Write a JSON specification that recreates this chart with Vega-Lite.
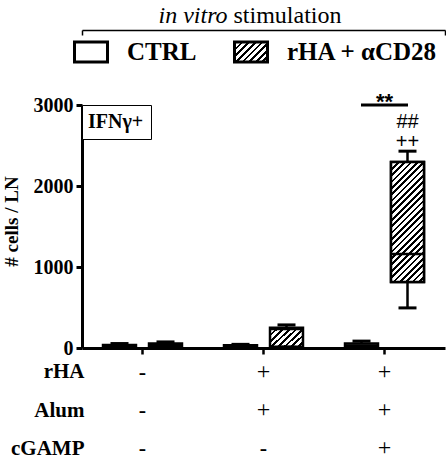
{
  "$schema": "https://vega.github.io/schema/vega-lite/v6.json",
  "background": "white",
  "padding": {"left": 2, "top": 3, "right": 0, "bottom": 2},
  "datasets": {
    "boxes": [
      {"group": "Naive", "stim": "CTRL", "min": 5, "q1": 12, "median": 22, "q3": 38, "max": 55},
      {"group": "Naive", "stim": "rHA + αCD28", "min": 8, "q1": 18, "median": 35, "q3": 55, "max": 75},
      {"group": "rHA+Alum", "stim": "CTRL", "min": 4, "q1": 10, "median": 20, "q3": 35, "max": 45},
      {"group": "rHA+Alum", "stim": "rHA + αCD28", "min": 10, "q1": 15, "median": 235, "q3": 250, "max": 285},
      {"group": "rHA+Alum+cGAMP", "stim": "CTRL", "min": 5, "q1": 15, "median": 30, "q3": 55, "max": 85},
      {"group": "rHA+Alum+cGAMP", "stim": "rHA + αCD28", "min": 495, "q1": 815, "median": 1160, "q3": 2296, "max": 2430}
    ],
    "annot": [
      {"group": "rHA+Alum+cGAMP", "label": "**", "value": 3000},
      {"group": "rHA+Alum+cGAMP", "stim": "rHA + αCD28", "label": "##", "value": 2716},
      {"group": "rHA+Alum+cGAMP", "stim": "rHA + αCD28", "label": "++", "value": 2469}
    ],
    "table": [
      {"group": "Naive", "factor": "rHA", "sign": "-"},
      {"group": "Naive", "factor": "Alum", "sign": "-"},
      {"group": "Naive", "factor": "cGAMP", "sign": "-"},
      {"group": "rHA+Alum", "factor": "rHA", "sign": "+"},
      {"group": "rHA+Alum", "factor": "Alum", "sign": "+"},
      {"group": "rHA+Alum", "factor": "cGAMP", "sign": "-"},
      {"group": "rHA+Alum+cGAMP", "factor": "rHA", "sign": "+"},
      {"group": "rHA+Alum+cGAMP", "factor": "Alum", "sign": "+"},
      {"group": "rHA+Alum+cGAMP", "factor": "cGAMP", "sign": "+"}
    ]
  },
  "vconcat": [
    {
      "width": 363,
      "height": 243,
      "layer": [
        {
          "encoding": {
            "x": {"field": "group", "type": "nominal", "sort": null,
              "scale": {"domain": ["Naive", "rHA+Alum", "rHA+Alum+cGAMP"], "paddingInner": 0, "paddingOuter": 0},
              "axis": {"orient": "bottom", "labels": false, "title": null, "tickSize": 6, "tickWidth": 2.5, "domainWidth": 3}}
          },
          "layer": [
            {
              "data": {"name": "boxes"},
              "mark": {"type": "rule", "color": "black", "strokeWidth": 2.5, "opacity": 1},
              "encoding": {
                "xOffset": {"field": "stim", "type": "nominal", "scale": {"domain": ["CTRL", "rHA + αCD28"], "paddingInner": 0.283, "paddingOuter": 0.4567}},
                "y": {"field": "min", "type": "quantitative", "title": "# cells / LN", "scale": {"domain": [0, 3000], "nice": false},
                  "axis": {"format": "d", "labelFont": "Liberation Serif", "titleFont": "Liberation Serif", "labelFontWeight": "bold", "titleFontWeight": "bold", "labelFontSize": 20, "titleFontSize": 19, "titlePadding": 12, "titleY": 116}},
                "y2": {"field": "max"},
                "strokeDash": {"datum": "IFNγ+", "scale": {"range": [[1, 0]]},
                  "legend": {"orient": "top-left", "offset": 0, "title": null, "symbolType": "circle", "symbolSize": 0, "symbolOpacity": 0, "symbolStrokeWidth": 0,
                    "labelFont": "Liberation Serif", "labelFontWeight": "bold", "labelFontSize": 20, "labelColor": "black", "labelOffset": -21,
                    "padding": 7, "strokeColor": "black", "fillColor": "white",
                    "encode": {"legend": {"update": {"stroke": {"value": "black"}, "strokeWidth": {"value": 3}, "fill": {"value": "white"}}}}}}
              }
            },
            {
              "data": {"name": "boxes"},
              "mark": {"type": "bar", "stroke": "black", "strokeWidth": 2.5, "opacity": 1},
              "encoding": {
                "xOffset": {"field": "stim", "type": "nominal", "scale": {"domain": ["CTRL", "rHA + αCD28"], "paddingInner": 0.283, "paddingOuter": 0.4567}},
                "y": {"field": "q1", "type": "quantitative", "title": "# cells / LN", "scale": {"domain": [0, 3000], "nice": false},
                  "axis": {"format": "d", "labelFont": "Liberation Serif", "titleFont": "Liberation Serif", "labelFontWeight": "bold", "titleFontWeight": "bold", "labelFontSize": 20, "titleFontSize": 19, "titlePadding": 12, "titleY": 116}},
                "y2": {"field": "q3"},
                "fill": {"field": "stim", "type": "nominal",
                  "scale": {"domain": ["CTRL", "rHA + αCD28"], "range": ["white", {"expr": "{gradient: 'linear', x1: 0, y1: 0, x2: 1.175, y2: 0.712, stops: [{offset: 0, color: 'black'}, {offset: 0.0525, color: 'black'}, {offset: 0.0525, color: 'white'}, {offset: 0.125, color: 'white'}, {offset: 0.125, color: 'black'}, {offset: 0.1775, color: 'black'}, {offset: 0.1775, color: 'white'}, {offset: 0.25, color: 'white'}, {offset: 0.25, color: 'black'}, {offset: 0.3025, color: 'black'}, {offset: 0.3025, color: 'white'}, {offset: 0.375, color: 'white'}, {offset: 0.375, color: 'black'}, {offset: 0.4275, color: 'black'}, {offset: 0.4275, color: 'white'}, {offset: 0.5, color: 'white'}, {offset: 0.5, color: 'black'}, {offset: 0.5525, color: 'black'}, {offset: 0.5525, color: 'white'}, {offset: 0.625, color: 'white'}, {offset: 0.625, color: 'black'}, {offset: 0.6775, color: 'black'}, {offset: 0.6775, color: 'white'}, {offset: 0.75, color: 'white'}, {offset: 0.75, color: 'black'}, {offset: 0.8025, color: 'black'}, {offset: 0.8025, color: 'white'}, {offset: 0.875, color: 'white'}, {offset: 0.875, color: 'black'}, {offset: 0.9275, color: 'black'}, {offset: 0.9275, color: 'white'}, {offset: 1, color: 'white'}]}"}]},
                  "legend": {"orient": "none", "legendX": -9, "legendY": -71, "direction": "horizontal", "title": null,
                    "symbolType": "M-1,-0.606H1V0.606H-1Z", "symbolSize": 1089, "symbolStrokeColor": "black", "symbolStrokeWidth": 3, "symbolOpacity": 1,
                    "labelFont": "Liberation Serif", "labelFontWeight": "bold", "labelFontSize": 25, "labelColor": "black", "labelOffset": 18,
                    "columnPadding": 31, "padding": 0, "labelLimit": 300}}
              }
            },
            {
              "data": {"name": "boxes"},
              "transform": [{"filter": "datum.group === 'rHA+Alum+cGAMP' && datum.stim === 'rHA + αCD28'"}],
              "mark": {"type": "bar", "stroke": "black", "strokeWidth": 2.5, "opacity": 1,
                "fill": {"gradient": "linear", "x1": 0, "y1": 0, "x2": 0.326, "y2": 1.185, "stops": [
                  {"offset": 0, "color": "black"}, {"offset": 0.0175, "color": "black"}, {"offset": 0.0175, "color": "white"}, {"offset": 0.0417, "color": "white"},
                  {"offset": 0.0417, "color": "black"}, {"offset": 0.0592, "color": "black"}, {"offset": 0.0592, "color": "white"}, {"offset": 0.0833, "color": "white"},
                  {"offset": 0.0833, "color": "black"}, {"offset": 0.1008, "color": "black"}, {"offset": 0.1008, "color": "white"}, {"offset": 0.125, "color": "white"},
                  {"offset": 0.125, "color": "black"}, {"offset": 0.1425, "color": "black"}, {"offset": 0.1425, "color": "white"}, {"offset": 0.1667, "color": "white"},
                  {"offset": 0.1667, "color": "black"}, {"offset": 0.1842, "color": "black"}, {"offset": 0.1842, "color": "white"}, {"offset": 0.2083, "color": "white"},
                  {"offset": 0.2083, "color": "black"}, {"offset": 0.2258, "color": "black"}, {"offset": 0.2258, "color": "white"}, {"offset": 0.25, "color": "white"},
                  {"offset": 0.25, "color": "black"}, {"offset": 0.2675, "color": "black"}, {"offset": 0.2675, "color": "white"}, {"offset": 0.2917, "color": "white"},
                  {"offset": 0.2917, "color": "black"}, {"offset": 0.3092, "color": "black"}, {"offset": 0.3092, "color": "white"}, {"offset": 0.3333, "color": "white"},
                  {"offset": 0.3333, "color": "black"}, {"offset": 0.3508, "color": "black"}, {"offset": 0.3508, "color": "white"}, {"offset": 0.375, "color": "white"},
                  {"offset": 0.375, "color": "black"}, {"offset": 0.3925, "color": "black"}, {"offset": 0.3925, "color": "white"}, {"offset": 0.4167, "color": "white"},
                  {"offset": 0.4167, "color": "black"}, {"offset": 0.4342, "color": "black"}, {"offset": 0.4342, "color": "white"}, {"offset": 0.4583, "color": "white"},
                  {"offset": 0.4583, "color": "black"}, {"offset": 0.4758, "color": "black"}, {"offset": 0.4758, "color": "white"}, {"offset": 0.5, "color": "white"},
                  {"offset": 0.5, "color": "black"}, {"offset": 0.5175, "color": "black"}, {"offset": 0.5175, "color": "white"}, {"offset": 0.5417, "color": "white"},
                  {"offset": 0.5417, "color": "black"}, {"offset": 0.5592, "color": "black"}, {"offset": 0.5592, "color": "white"}, {"offset": 0.5833, "color": "white"},
                  {"offset": 0.5833, "color": "black"}, {"offset": 0.6008, "color": "black"}, {"offset": 0.6008, "color": "white"}, {"offset": 0.625, "color": "white"},
                  {"offset": 0.625, "color": "black"}, {"offset": 0.6425, "color": "black"}, {"offset": 0.6425, "color": "white"}, {"offset": 0.6667, "color": "white"},
                  {"offset": 0.6667, "color": "black"}, {"offset": 0.6842, "color": "black"}, {"offset": 0.6842, "color": "white"}, {"offset": 0.7083, "color": "white"},
                  {"offset": 0.7083, "color": "black"}, {"offset": 0.7258, "color": "black"}, {"offset": 0.7258, "color": "white"}, {"offset": 0.75, "color": "white"},
                  {"offset": 0.75, "color": "black"}, {"offset": 0.7675, "color": "black"}, {"offset": 0.7675, "color": "white"}, {"offset": 0.7917, "color": "white"},
                  {"offset": 0.7917, "color": "black"}, {"offset": 0.8092, "color": "black"}, {"offset": 0.8092, "color": "white"}, {"offset": 0.8333, "color": "white"},
                  {"offset": 0.8333, "color": "black"}, {"offset": 0.8508, "color": "black"}, {"offset": 0.8508, "color": "white"}, {"offset": 0.875, "color": "white"},
                  {"offset": 0.875, "color": "black"}, {"offset": 0.8925, "color": "black"}, {"offset": 0.8925, "color": "white"}, {"offset": 0.9167, "color": "white"},
                  {"offset": 0.9167, "color": "black"}, {"offset": 0.9342, "color": "black"}, {"offset": 0.9342, "color": "white"}, {"offset": 0.9583, "color": "white"},
                  {"offset": 0.9583, "color": "black"}, {"offset": 0.9758, "color": "black"}, {"offset": 0.9758, "color": "white"}, {"offset": 1, "color": "white"}
                ]}},
              "encoding": {
                "xOffset": {"field": "stim", "type": "nominal", "scale": {"domain": ["CTRL", "rHA + αCD28"], "paddingInner": 0.283, "paddingOuter": 0.4567}},
                "y": {"field": "q1", "type": "quantitative", "title": "# cells / LN", "scale": {"domain": [0, 3000], "nice": false},
                  "axis": {"format": "d", "labelFont": "Liberation Serif", "titleFont": "Liberation Serif", "labelFontWeight": "bold", "titleFontWeight": "bold", "labelFontSize": 20, "titleFontSize": 19, "titlePadding": 12, "titleY": 116}},
                "y2": {"field": "q3"}
              }
            },
            {
              "data": {"name": "boxes"},
              "mark": {"type": "tick", "color": "black", "size": 33, "thickness": 2.5, "opacity": 1},
              "encoding": {
                "xOffset": {"field": "stim", "type": "nominal", "scale": {"domain": ["CTRL", "rHA + αCD28"], "paddingInner": 0.283, "paddingOuter": 0.4567}},
                "y": {"field": "median", "type": "quantitative", "title": "# cells / LN", "scale": {"domain": [0, 3000], "nice": false},
                  "axis": {"format": "d", "labelFont": "Liberation Serif", "titleFont": "Liberation Serif", "labelFontWeight": "bold", "titleFontWeight": "bold", "labelFontSize": 20, "titleFontSize": 19, "titlePadding": 12, "titleY": 116}}
              }
            },
            {
              "data": {"name": "boxes"},
              "mark": {"type": "tick", "color": "black", "size": 18, "thickness": 3, "opacity": 1},
              "encoding": {
                "xOffset": {"field": "stim", "type": "nominal", "scale": {"domain": ["CTRL", "rHA + αCD28"], "paddingInner": 0.283, "paddingOuter": 0.4567}},
                "y": {"field": "min", "type": "quantitative", "title": "# cells / LN", "scale": {"domain": [0, 3000], "nice": false},
                  "axis": {"format": "d", "labelFont": "Liberation Serif", "titleFont": "Liberation Serif", "labelFontWeight": "bold", "titleFontWeight": "bold", "labelFontSize": 20, "titleFontSize": 19, "titlePadding": 12, "titleY": 116}}
              }
            },
            {
              "data": {"name": "boxes"},
              "mark": {"type": "tick", "color": "black", "size": 18, "thickness": 3, "opacity": 1},
              "encoding": {
                "xOffset": {"field": "stim", "type": "nominal", "scale": {"domain": ["CTRL", "rHA + αCD28"], "paddingInner": 0.283, "paddingOuter": 0.4567}},
                "y": {"field": "max", "type": "quantitative", "title": "# cells / LN", "scale": {"domain": [0, 3000], "nice": false},
                  "axis": {"format": "d", "labelFont": "Liberation Serif", "titleFont": "Liberation Serif", "labelFontWeight": "bold", "titleFontWeight": "bold", "labelFontSize": 20, "titleFontSize": 19, "titlePadding": 12, "titleY": 116}}
              }
            },
            {
              "data": {"name": "annot"},
              "transform": [{"filter": "datum.label === '**'"}],
              "mark": {"type": "tick", "color": "black", "size": 47, "thickness": 3, "opacity": 1},
              "encoding": {
                "y": {"field": "value", "type": "quantitative", "title": "# cells / LN", "scale": {"domain": [0, 3000], "nice": false},
                  "axis": {"format": "d", "labelFont": "Liberation Serif", "titleFont": "Liberation Serif", "labelFontWeight": "bold", "titleFontWeight": "bold", "labelFontSize": 20, "titleFontSize": 19, "titlePadding": 12, "titleY": 116}}
              }
            },
            {
              "data": {"name": "annot"},
              "transform": [{"filter": "datum.label === '**'"}],
              "mark": {"type": "text", "color": "black", "font": "Liberation Sans", "fontWeight": "bold", "fontSize": 22, "baseline": "alphabetic", "dy": 4, "opacity": 1},
              "encoding": {
                "y": {"field": "value", "type": "quantitative", "title": "# cells / LN", "scale": {"domain": [0, 3000], "nice": false},
                  "axis": {"format": "d", "labelFont": "Liberation Serif", "titleFont": "Liberation Serif", "labelFontWeight": "bold", "titleFontWeight": "bold", "labelFontSize": 20, "titleFontSize": 19, "titlePadding": 12, "titleY": 116}},
                "text": {"field": "label"}
              }
            },
            {
              "data": {"name": "annot"},
              "transform": [{"filter": "datum.label !== '**'"}],
              "mark": {"type": "text", "color": "black", "font": "Liberation Sans", "fontSize": 20, "baseline": "alphabetic", "opacity": 1},
              "encoding": {
                "xOffset": {"field": "stim", "type": "nominal", "scale": {"domain": ["CTRL", "rHA + αCD28"], "paddingInner": 0.283, "paddingOuter": 0.4567}},
                "y": {"field": "value", "type": "quantitative", "title": "# cells / LN", "scale": {"domain": [0, 3000], "nice": false},
                  "axis": {"format": "d", "labelFont": "Liberation Serif", "titleFont": "Liberation Serif", "labelFontWeight": "bold", "titleFontWeight": "bold", "labelFontSize": 20, "titleFontSize": 19, "titlePadding": 12, "titleY": 116}},
                "text": {"field": "label"}
              }
            }
          ]
        },
        {
          "data": {"values": [{"span": "in vitro stimulation"}]},
          "mark": {"type": "rule", "opacity": 0},
          "encoding": {
            "x": {"datum": 0, "type": "quantitative", "scale": {"domain": [0, 1], "nice": false},
              "axis": {"orient": "top", "offset": 75, "values": [0, 1], "tickSize": -5, "tickWidth": 1.5, "domainWidth": 1.5, "labels": false,
                "title": "in vitro", "titleFont": "Liberation Serif", "titleFontStyle": "italic", "titleFontWeight": "normal", "titleFontSize": 24,
                "titleX": 76, "titleY": -8, "titleAlign": "left", "titleBaseline": "alphabetic", "titleAngle": 0}}
          }
        }
      ],
      "resolve": {"scale": {"x": "independent"}, "axis": {"x": "independent"}}
    },
    {
      "width": 363,
      "height": 110,
      "data": {"name": "table"},
      "encoding": {
        "x": {"field": "group", "type": "nominal", "sort": null,
          "scale": {"domain": ["Naive", "rHA+Alum", "rHA+Alum+cGAMP"], "paddingInner": 0, "paddingOuter": 0}, "axis": null},
        "y": {"field": "factor", "type": "nominal", "sort": null,
          "scale": {"type": "point", "domain": ["rHA", "Alum", "cGAMP"], "padding": 0.447, "align": 0.706},
          "axis": {"values": ["rHA", "Alum", "cGAMP"], "domain": false, "ticks": false, "tickSize": 0, "labelPadding": -2,
            "labelFont": "Liberation Serif", "labelFontWeight": "bold", "labelFontSize": 21, "labelColor": "black",
            "title": "stimulation", "titleAngle": 0, "titleX": 151, "titleY": -326, "titleAlign": "left", "titleBaseline": "alphabetic",
            "titleFont": "Liberation Serif", "titleFontWeight": "normal", "titleFontSize": 24, "titleColor": "black"}},
        "text": {"field": "sign"}
      },
      "layer": [
        {"transform": [{"filter": "datum.sign === '+'"}], "mark": {"type": "text", "color": "black", "font": "Liberation Serif", "fontSize": 24, "fontWeight": "normal", "baseline": "middle", "opacity": 1}},
        {"transform": [{"filter": "datum.sign === '-'"}], "mark": {"type": "text", "color": "black", "font": "Liberation Serif", "fontSize": 22, "fontWeight": "bold", "baseline": "middle", "opacity": 1}}
      ]
    }
  ],
  "spacing": 0,
  "bounds": "flush",
  "resolve": {"scale": {"x": "independent", "y": "independent"}},
  "config": {
    "view": {"stroke": null},
    "font": "Liberation Serif",
    "axis": {"domainColor": "black", "tickColor": "black", "labelColor": "black", "titleColor": "black", "grid": false, "labelFont": "Liberation Serif", "titleFont": "Liberation Serif"},
    "axisX": {"labels": false, "domainWidth": 3, "tickWidth": 2.5, "tickSize": 6},
    "axisY": {"tickCount": 3, "domainWidth": 3, "tickWidth": 3, "tickSize": 6, "labelFontSize": 20, "labelFontWeight": "bold", "labelPadding": 3, "titleFontSize": 19, "titleFontWeight": "bold", "titlePadding": 12, "labelFont": "Liberation Serif", "titleFont": "Liberation Serif"}
  }
}
